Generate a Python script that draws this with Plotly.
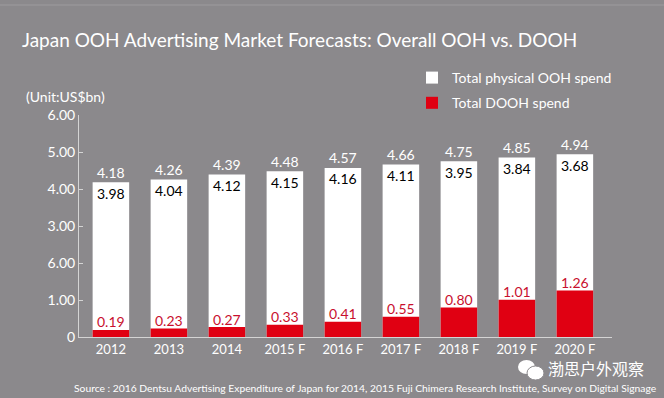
import plotly.graph_objects as go

categories = ["2012", "2013", "2014", "2015 F", "2016 F", "2017 F", "2018 F", "2019 F", "2020 F"]
total_ooh = [4.18, 4.26, 4.39, 4.48, 4.57, 4.66, 4.75, 4.85, 4.94]
physical_ooh = [3.98, 4.04, 4.12, 4.15, 4.16, 4.11, 3.95, 3.84, 3.68]
dooh = [0.19, 0.23, 0.27, 0.33, 0.41, 0.55, 0.80, 1.01, 1.26]
y_tickvals = [0, 1, 2, 3, 4, 5, 6]
y_ticktext = ["0", "1.00", "6.00", "3.00", "4.00", "5.00", "6.00"]

BG = "#8b898c"
RED = "#e00012"
AXIS = "#d4d4d4"
FONT = "Lato, Open Sans, sans-serif"

L, R, T, B = 79, 52, 115, 61
PW, PH = 664 - L - R, 398 - T - B


def px(x):
    return (x - L) / PW


def py(y):
    return (398 - B - y) / PH


fig = go.Figure()
fig.add_trace(go.Bar(x=categories, y=total_ooh, name="Total physical OOH spend",
                     marker=dict(color="white", line=dict(width=0)), width=0.63,
                     legendgroup="a", hoverinfo="skip"))
fig.add_trace(go.Bar(x=categories, y=dooh, name="Total DOOH spend",
                     marker=dict(color=RED, line=dict(width=0)), width=0.63,
                     legendgroup="b", hoverinfo="skip"))

ann = []
for i, (t, p, d) in enumerate(zip(total_ooh, physical_ooh, dooh)):
    ann.append(dict(x=i, y=t, text=f"{t:.2f}", showarrow=False, yanchor="middle", yshift=10,
                    font=dict(color="white", size=14, family=FONT)))
    ann.append(dict(x=i, y=t, text=f"{p:.2f}", showarrow=False, yanchor="middle", yshift=-11,
                    font=dict(color="black", size=14, family=FONT)))
    ann.append(dict(x=i, y=d, text=f"{d:.2f}", showarrow=False, yanchor="middle", yshift=8,
                    font=dict(color="#c8102e", size=14, family=FONT)))

ann += [
    dict(xref="paper", yref="paper", x=px(24), y=py(97), xanchor="left", yanchor="middle",
         text="(Unit:US$bn)", showarrow=False,
         font=dict(color="white", size=14, family=FONT)),
    dict(xref="paper", yref="paper", x=px(646), y=py(368), xanchor="right", yanchor="middle",
         text="渤思户外观察", showarrow=False,
         font=dict(color="white", size=16, family="Noto Sans CJK SC")),
    dict(xref="paper", yref="paper", x=px(659), y=py(388), xanchor="right", yanchor="middle",
         text="Source : 2016 Dentsu Advertising Expenditure of Japan for 2014, 2015 Fuji Chimera Research Institute, Survey on Digital Signage",
         showarrow=False, font=dict(color="white", size=10.3, family=FONT)),
]

fig.update_layout(
    width=664, height=398,
    paper_bgcolor=BG, plot_bgcolor=BG,
    margin=dict(l=L, r=R, t=T, b=B),
    barmode="overlay",
    title=dict(text="Japan OOH Advertising Market Forecasts: Overall OOH vs. DOOH",
               x=22 / 664, xanchor="left", y=1 - 40 / 398, yanchor="middle",
               font=dict(color="white", size=19, family=FONT)),
    legend=dict(x=px(412), y=py(62), xanchor="left", yanchor="top", bgcolor="rgba(0,0,0,0)",
                font=dict(color="white", size=14, family=FONT), traceorder="grouped",
                tracegroupgap=4),
    xaxis=dict(range=[-0.55, 8.64], showgrid=False, showline=True, linecolor=AXIS, linewidth=1,
               ticks="", tickfont=dict(color="white", size=13, family=FONT), fixedrange=True),
    yaxis=dict(range=[0, 6], tickvals=y_tickvals, ticktext=y_ticktext, showgrid=False,
               showline=True, linecolor=AXIS, linewidth=1, ticks="inside", ticklen=4,
               tickcolor=AXIS, zeroline=False, fixedrange=True,
               tickfont=dict(color="white", size=14, family=FONT)),
    annotations=ann,
    shapes=[
        dict(type="line", xref="paper", yref="paper", x0=-0.2, x1=1.2, y0=py(5), y1=py(5),
             line=dict(color="#9d9b9e", width=1)),
        dict(type="circle", xref="paper", yref="paper", x0=px(518), x1=px(535),
             y0=py(374), y1=py(360), fillcolor="white", line=dict(width=0)),
        dict(type="circle", xref="paper", yref="paper", x0=px(527), x1=px(544),
             y0=py(380), y1=py(366), fillcolor="white", line=dict(color=BG, width=1)),
    ],
)

fig.write_html("out.html", config={"displayModeBar": False},
               post_script="document.body.style.margin='0';")
